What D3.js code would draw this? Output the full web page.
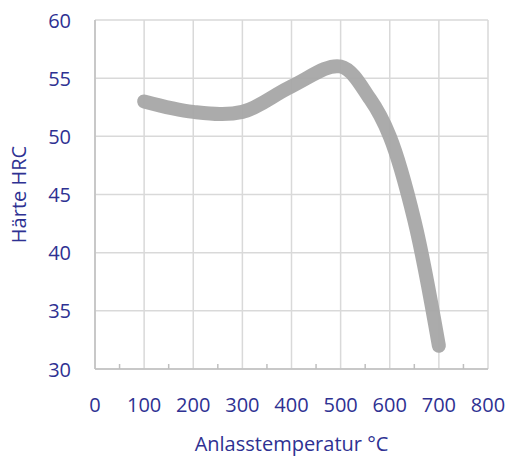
<!DOCTYPE html>
<html>
<head>
<meta charset="utf-8">
<script src="https://cdn.jsdelivr.net/npm/d3@7"></script>
<style>
body { margin: 0; background: #fff; }
text { font-family: "Open Sans", sans-serif; font-weight: 400; fill: #2e3192; }
</style>
</head>
<body>
<div id="chart"></div>
<script>
const svgWidth = 511, svgHeight = 457;
const margin = { top: 20, right: 23, bottom: 88, left: 95 };
const width = svgWidth - margin.left - margin.right;
const height = svgHeight - margin.top - margin.bottom;

// data
const temps = [100, 200, 300, 400, 500, 560, 600, 650, 700];
const hardness = [53, 52.1, 52.1, 54.3, 56, 53.2, 50, 42.8, 32];
const xTicks = [0, 100, 200, 300, 400, 500, 600, 700, 800];
const yTicks = [30, 35, 40, 45, 50, 55, 60];
const minorTicks = [50, 150, 250, 350, 450, 550, 650, 750];

const svg = d3.select("#chart").append("svg")
  .attr("width", svgWidth)
  .attr("height", svgHeight);

const chartGroup = svg.append("g")
  .attr("transform", `translate(${margin.left}, ${margin.top})`);

const x = d3.scaleLinear().domain([0, 800]).range([0, width]);
const y = d3.scaleLinear().domain([30, 60]).range([height, 0]);

// grid
chartGroup.append("g").selectAll("line.v")
  .data(xTicks).enter().append("line")
  .attr("x1", d => x(d)).attr("x2", d => x(d))
  .attr("y1", 0).attr("y2", height)
  .attr("stroke", "#d9d9d9").attr("stroke-width", 1.5);

chartGroup.append("g").selectAll("line.h")
  .data(yTicks).enter().append("line")
  .attr("x1", 0).attr("x2", width)
  .attr("y1", d => y(d)).attr("y2", d => y(d))
  .attr("stroke", "#d9d9d9").attr("stroke-width", 1.5);

// left axis line
chartGroup.append("line")
  .attr("x1", 0).attr("x2", 0).attr("y1", 0).attr("y2", height)
  .attr("stroke", "#bfbfbf").attr("stroke-width", 1.5);

// bottom axis line with minor ticks
chartGroup.append("line")
  .attr("x1", 0).attr("x2", width).attr("y1", height).attr("y2", height)
  .attr("stroke", "#bfbfbf").attr("stroke-width", 1.5);
chartGroup.append("g").selectAll("line")
  .data(minorTicks).enter().append("line")
  .attr("x1", d => x(d)).attr("x2", d => x(d))
  .attr("y1", height).attr("y2", height - 5)
  .attr("stroke", "#bfbfbf").attr("stroke-width", 1.5);

// tick labels
chartGroup.append("g").selectAll("text")
  .data(xTicks).enter().append("text")
  .attr("x", d => x(d)).attr("y", height + 43)
  .attr("text-anchor", "middle")
  .style("font-size", "20px")
  .text(d => d);

chartGroup.append("g").selectAll("text")
  .data(yTicks).enter().append("text")
  .attr("x", -24).attr("y", d => y(d) + 7.5)
  .attr("text-anchor", "end")
  .style("font-size", "20px")
  .text(d => d);

// axis titles
chartGroup.append("text")
  .attr("x", width / 2).attr("y", height + 82)
  .attr("text-anchor", "middle")
  .style("font-size", "20px")
  .text("Anlasstemperatur °C");

chartGroup.append("text")
  .attr("transform", "rotate(-90)")
  .attr("x", -height / 2).attr("y", -69)
  .attr("text-anchor", "middle")
  .style("font-size", "20px")
  .text("Härte HRC");

// curve
const line = d3.line()
  .x((d, i) => x(temps[i]))
  .y(d => y(d))
  .curve(d3.curveCatmullRom.alpha(0.5));

chartGroup.append("path")
  .datum(hardness)
  .attr("d", line)
  .attr("fill", "none")
  .attr("stroke", "#a6a6a6")
  .attr("stroke-opacity", 0.95)
  .attr("stroke-width", 14)
  .attr("stroke-linecap", "round")
  .attr("stroke-linejoin", "round");
</script>
</body>
</html>
